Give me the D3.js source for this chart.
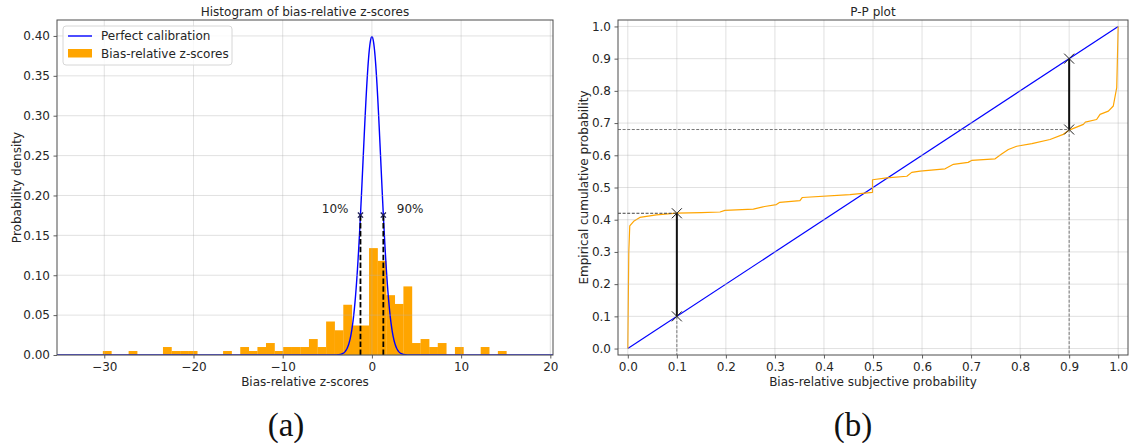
<!DOCTYPE html>
<html>
<head>
<meta charset="utf-8">
<script src="https://cdn.jsdelivr.net/npm/d3@7"></script>
<style>
  body { margin: 0; background: #fff; }
  svg { display: block; font-family: "DejaVu Sans", sans-serif; }
  text { fill: #262626; }
</style>
</head>
<body>
<svg id="fig" width="1129" height="443"></svg>
<script>
// ---------- Histogram of bias-relative z-scores ----------
const binStart = -30.16;
const binWidth = 0.9626;
const histDensity = [
  0.005, 0, 0, 0.005, 0, 0, 0, 0.010, 0.005, 0.005,
  0.005, 0, 0, 0, 0.005, 0, 0.010, 0.005, 0.010, 0.015,
  0.005, 0.010, 0.010, 0.010, 0.020, 0.010, 0.042, 0.031, 0.063, 0.037,
  0.037, 0.134, 0.118, 0.075, 0.064, 0.086, 0.015, 0.020, 0.010, 0.015,
  0, 0.010, 0, 0, 0.010, 0, 0.005
];
const normalMean = 0;
const normalSd = 1;
const quantileNames = ["10%", "90%"];
const quantileZ = [-1.2816, 1.2816];
const histXTicks = [-30, -20, -10, 0, 10, 20];
const histYTicks = [0, 0.05, 0.10, 0.15, 0.20, 0.25, 0.30, 0.35, 0.40];
const histXDomain = [-35.3, 20.3];
const histYDomain = [0, 0.42];

// ---------- P-P plot ----------
const ppSubjective = [
  0, 0.002, 0.004, 0.012, 0.0245, 0.0585, 0.099, 0.15, 0.188, 0.198,
  0.256, 0.279, 0.303, 0.31, 0.351, 0.356, 0.453, 0.499, 0.499, 0.528,
  0.569, 0.579, 0.596, 0.647, 0.664, 0.694, 0.701, 0.749, 0.763, 0.776,
  0.793, 0.824, 0.861, 0.888, 0.9, 0.929, 0.933, 0.956, 0.963, 0.98,
  0.99, 0.997, 1.0
];
const ppEmpirical = [
  0, 0.30, 0.381, 0.395, 0.407, 0.415, 0.4205, 0.422, 0.424, 0.429,
  0.433, 0.441, 0.447, 0.454, 0.459, 0.469, 0.478, 0.485, 0.524, 0.53,
  0.535, 0.547, 0.551, 0.558, 0.572, 0.578, 0.584, 0.589, 0.605, 0.618,
  0.628, 0.636, 0.649, 0.665, 0.678, 0.696, 0.703, 0.711, 0.727, 0.737,
  0.753, 0.81, 1.0
];
const ppMarkSubjective = [0.1, 0.9];
const ppMarkEmpirical = [0.42, 0.68];
const ppTicks = [0, 0.1, 0.2, 0.3, 0.4, 0.5, 0.6, 0.7, 0.8, 0.9, 1.0];
const ppDomain = [-0.02, 1.02];

const BLUE = "#0000ff";
const ORANGE = "#ffa500";
const SPINE = "#4d4d4d";

const svg = d3.select("#fig");

function normalPdf(z) {
  const u = (z - normalMean) / normalSd;
  return Math.exp(-0.5 * u * u) / (normalSd * Math.sqrt(2 * Math.PI));
}
const fmtMinus = s => s.replace("-", "\u2212");

// light grid drawn over the data, as in the original figure style
function grid(g, x, y, box, xTicks, yTicks) {
  const gg = g.append("g")
    .attr("stroke", "#b0b0b0").attr("stroke-opacity", 0.38).attr("stroke-width", 1);
  xTicks.forEach(t => gg.append("line")
    .attr("x1", x(t)).attr("x2", x(t)).attr("y1", box.t).attr("y2", box.b));
  yTicks.forEach(t => gg.append("line")
    .attr("x1", box.l).attr("x2", box.r).attr("y1", y(t)).attr("y2", y(t)));
}

function frame(g, x, y, box, xTicks, yTicks, xFmt, yFmt) {
  g.append("rect")
    .attr("x", box.l).attr("y", box.t)
    .attr("width", box.r - box.l).attr("height", box.b - box.t)
    .attr("fill", "none").attr("stroke", SPINE).attr("stroke-width", 1);
  const xa = g.append("g").attr("transform", `translate(0,${box.b})`)
    .call(d3.axisBottom(x).tickValues(xTicks).tickFormat(xFmt).tickSize(3.5).tickPadding(3.5));
  const ya = g.append("g").attr("transform", `translate(${box.l},0)`)
    .call(d3.axisLeft(y).tickValues(yTicks).tickFormat(yFmt).tickSize(3.5).tickPadding(3.5));
  [xa, ya].forEach(a => {
    a.attr("font-family", null).attr("font-size", null);
    a.select(".domain").remove();
    a.selectAll(".tick line").attr("stroke", SPINE).attr("stroke-width", 0.9);
    a.selectAll(".tick text").attr("font-size", 12).attr("fill", "#262626");
  });
}

// ================= Left panel =================
const boxA = { l: 57, r: 553, t: 20, b: 355 };
const xA = d3.scaleLinear().domain(histXDomain).range([boxA.l, boxA.r]);
const yA = d3.scaleLinear().domain(histYDomain).range([boxA.b, boxA.t]);
const gA = svg.append("g");

gA.append("defs").append("clipPath").attr("id", "clipA")
  .append("rect").attr("x", boxA.l).attr("y", boxA.t)
  .attr("width", boxA.r - boxA.l).attr("height", boxA.b - boxA.t);

const plotA = gA.append("g").attr("clip-path", "url(#clipA)");

plotA.append("g").selectAll("rect")
  .data(histDensity)
  .join("rect")
  .attr("x", (d, i) => xA(binStart + i * binWidth))
  .attr("width", (d, i) => xA(binStart + (i + 1) * binWidth) - xA(binStart + i * binWidth) + 0.2)
  .attr("y", d => yA(d))
  .attr("height", d => yA(0) - yA(d))
  .attr("fill", ORANGE);

const zSamples = d3.range(histXDomain[0], histXDomain[1] + 0.01, 0.02);
plotA.append("path")
  .datum(zSamples)
  .attr("fill", "none").attr("stroke", BLUE).attr("stroke-width", 1.4)
  .attr("d", d3.line().x(z => xA(z)).y(z => yA(normalPdf(z))));

grid(gA, xA, yA, boxA, histXTicks, histYTicks);

// quantile markers
quantileZ.forEach((q, i) => {
  gA.append("line")
    .attr("x1", xA(q)).attr("x2", xA(q))
    .attr("y1", yA(0)).attr("y2", yA(normalPdf(q)))
    .attr("stroke", "#000").attr("stroke-width", 1.8)
    .attr("stroke-dasharray", "5.5,2.4");
  const cx = xA(q), cy = yA(normalPdf(q)), s = 2.6;
  gA.append("path")
    .attr("d", `M${cx - s},${cy - s}L${cx + s},${cy + s}M${cx - s},${cy + s}L${cx + s},${cy - s}`)
    .attr("stroke", "#1c1c55").attr("stroke-width", 1.3);
  gA.append("text")
    .attr("x", i === 0 ? cx - 12 : cx + 13.5)
    .attr("y", cy - 2.5)
    .attr("text-anchor", i === 0 ? "end" : "start")
    .attr("font-size", 12)
    .text(quantileNames[i]);
});

frame(gA, xA, yA, boxA, histXTicks, histYTicks,
  d => fmtMinus(d3.format("d")(d)), d3.format(".2f"));

gA.append("text").attr("x", (boxA.l + boxA.r) / 2).attr("y", 15.5)
  .attr("text-anchor", "middle").attr("font-size", 12)
  .text("Histogram of bias-relative z-scores");
gA.append("text").attr("x", (boxA.l + boxA.r) / 2).attr("y", 386)
  .attr("text-anchor", "middle").attr("font-size", 12)
  .text("Bias-relative z-scores");
gA.append("text").attr("transform", `translate(20.5,${(boxA.t + boxA.b) / 2}) rotate(-90)`)
  .attr("text-anchor", "middle").attr("font-size", 12)
  .text("Probability density");

// legend
const leg = gA.append("g");
leg.append("rect").attr("x", 63).attr("y", 26).attr("width", 169).attr("height", 39)
  .attr("rx", 3).attr("fill", "#fff").attr("fill-opacity", 0.8)
  .attr("stroke", "#d6d6d6").attr("stroke-width", 1);
leg.append("line").attr("x1", 68).attr("x2", 92).attr("y1", 36).attr("y2", 36)
  .attr("stroke", BLUE).attr("stroke-width", 1.4);
leg.append("text").attr("x", 101).attr("y", 40).attr("font-size", 12).text("Perfect calibration");
leg.append("rect").attr("x", 68).attr("y", 49).attr("width", 24).attr("height", 8.5)
  .attr("fill", ORANGE);
leg.append("text").attr("x", 101).attr("y", 58).attr("font-size", 12).text("Bias-relative z-scores");

// ================= Right panel =================
const boxB = { l: 618, r: 1128, t: 20, b: 355 };
const xB = d3.scaleLinear().domain(ppDomain).range([boxB.l, boxB.r]);
const yB = d3.scaleLinear().domain(ppDomain).range([boxB.b, boxB.t]);
const gB = svg.append("g");

// reference diagonal
gB.append("line")
  .attr("x1", xB(0)).attr("y1", yB(0)).attr("x2", xB(1)).attr("y2", yB(1))
  .attr("stroke", BLUE).attr("stroke-width", 1.2);

// empirical curve
gB.append("path")
  .datum(d3.zip(ppSubjective, ppEmpirical))
  .attr("fill", "none").attr("stroke", ORANGE).attr("stroke-width", 1.2)
  .attr("stroke-linejoin", "round")
  .attr("d", d3.line().x(d => xB(d[0])).y(d => yB(d[1])));

grid(gB, xB, yB, boxB, ppTicks, ppTicks);

// guide lines and gap markers
ppMarkSubjective.forEach((p, i) => {
  const e = ppMarkEmpirical[i];
  const lowV = Math.min(p, e), highV = Math.max(p, e);
  gB.append("line")
    .attr("x1", boxB.l).attr("x2", xB(p)).attr("y1", yB(e)).attr("y2", yB(e))
    .attr("stroke", i === 0 ? "#444" : "#777").attr("stroke-width", 1)
    .attr("stroke-dasharray", "3,1.6");
  gB.append("line")
    .attr("x1", xB(p)).attr("x2", xB(p)).attr("y1", yB(lowV)).attr("y2", boxB.b)
    .attr("stroke", "#777").attr("stroke-width", 1)
    .attr("stroke-dasharray", "3,1.6");
  gB.append("line")
    .attr("x1", xB(p)).attr("x2", xB(p)).attr("y1", yB(lowV)).attr("y2", yB(highV))
    .attr("stroke", "#111").attr("stroke-width", 2);
  [p, e].forEach(v => {
    const cx = xB(p), cy = yB(v), s = 5;
    gB.append("path")
      .attr("d", `M${cx - s},${cy - s}L${cx + s},${cy + s}M${cx - s},${cy + s}L${cx + s},${cy - s}`)
      .attr("stroke", "#222").attr("stroke-width", 1);
  });
});

frame(gB, xB, yB, boxB, ppTicks, ppTicks, d3.format(".1f"), d3.format(".1f"));

gB.append("text").attr("x", (boxB.l + boxB.r) / 2).attr("y", 15.5)
  .attr("text-anchor", "middle").attr("font-size", 12).text("P-P plot");
gB.append("text").attr("x", (boxB.l + boxB.r) / 2).attr("y", 386)
  .attr("text-anchor", "middle").attr("font-size", 12)
  .text("Bias-relative subjective probability");
gB.append("text").attr("transform", `translate(587.5,${(boxB.t + boxB.b) / 2}) rotate(-90)`)
  .attr("text-anchor", "middle").attr("font-size", 12)
  .text("Empirical cumulative probability");

// sub-figure captions
[["(a)", 286], ["(b)", 853]].forEach(([t, cx]) => {
  svg.append("text").attr("x", cx).attr("y", 436)
    .attr("text-anchor", "middle")
    .style("font-family", "'Liberation Serif', serif")
    .style("font-size", "33px")
    .style("fill", "#111")
    .text(t);
});
</script>
</body>
</html>
